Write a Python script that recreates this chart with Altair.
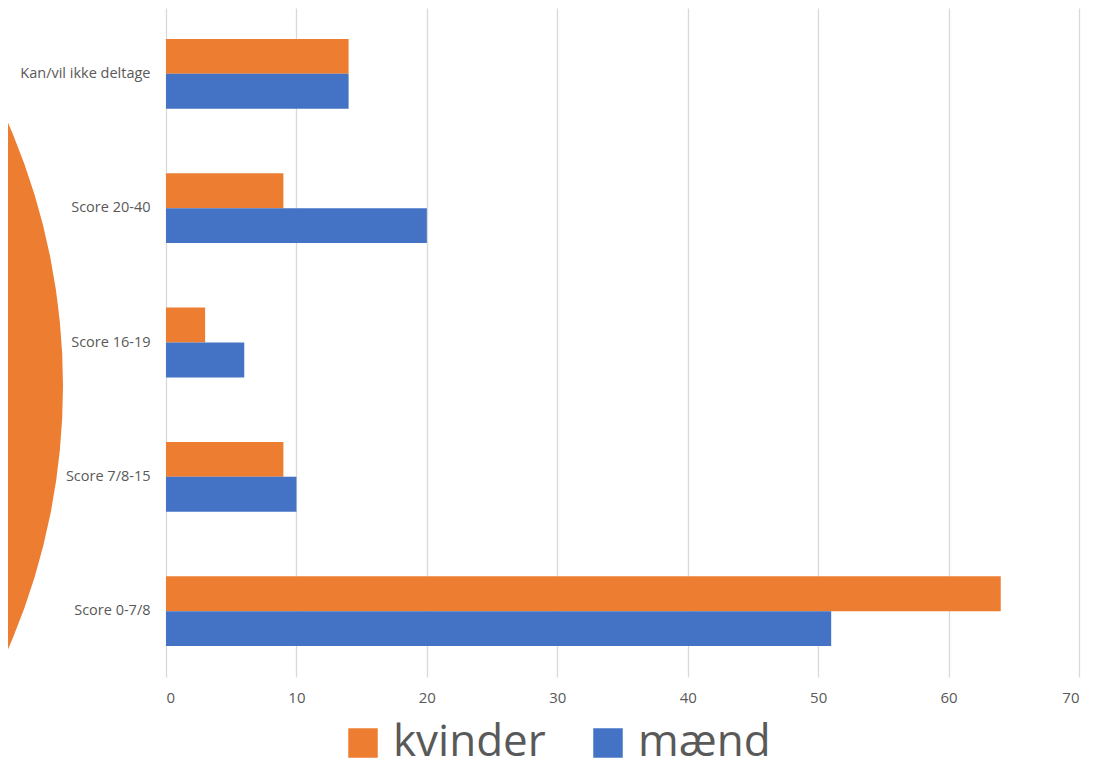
import altair as alt
import pandas as pd
import math

categories = ["Kan/vil ikke deltage", "Score 20-40", "Score 16-19", "Score 7/8-15", "Score 0-7/8"]
kvinder = [14, 9, 3, 9, 64]
maend = [14, 20, 6, 10, 51]
series = ["kvinder", "mænd"]
colors = ["#ED7D31", "#4472C4"]
x_ticks = [0, 10, 20, 30, 40, 50, 60, 70]

rows = []
for c, k, m in zip(categories, kvinder, maend):
    rows.append({"kategori": c, "køn": "kvinder", "værdi": k})
    rows.append({"kategori": c, "køn": "mænd", "værdi": m})
df = pd.DataFrame(rows)

FONT = "Open Sans"
GREY = "#595959"

circle = alt.Chart(pd.DataFrame({"a": [1]})).mark_arc(
    color="#ED7D31", radius=658, theta=0, theta2=2 * math.pi
).encode(x=alt.value(-761), y=alt.value(378))

bars = alt.Chart(df).mark_bar().encode(
    x=alt.X("værdi:Q", scale=alt.Scale(domain=[0, 70], nice=False),
            axis=alt.Axis(values=x_ticks, title=None, domain=False, ticks=False,
                          grid=True, gridColor="#d9d9d9", gridWidth=1.3,
                          labelColor=GREY, labelFontSize=15, labelFont=FONT,
                          labelPadding=13)),
    y=alt.Y("kategori:N", sort=categories,
            scale=alt.Scale(paddingInner=0.48, paddingOuter=0.23),
            axis=alt.Axis(title=None, domain=False, ticks=False, grid=False,
                          labelColor=GREY, labelFontSize=14.5, labelFont=FONT,
                          labelPadding=16, labelLimit=300)),
    yOffset=alt.YOffset("køn:N", sort=series, scale=alt.Scale(paddingInner=0, paddingOuter=0)),
    color=alt.Color("køn:N", sort=series,
                    scale=alt.Scale(domain=series, range=colors),
                    legend=alt.Legend(title=None, orient="none", legendX=175, legendY=713,
                                      direction="horizontal", symbolType="square",
                                      symbolSize=870, symbolStrokeWidth=0, symbolOpacity=1,
                                      labelFontSize=44, labelFont=FONT, labelColor=GREY,
                                      labelOffset=8, columnPadding=40, labelLimit=400)),
)

chart = alt.layer(circle, bars).properties(
    width=913, height=669,
    autosize=alt.AutoSizeParams(type="none"),
    padding={"left": 158, "top": 0, "right": 7, "bottom": 94},
    background="white",
).configure_view(stroke=None)

chart.save("out.html", embed_options={"renderer": "svg", "actions": False})
